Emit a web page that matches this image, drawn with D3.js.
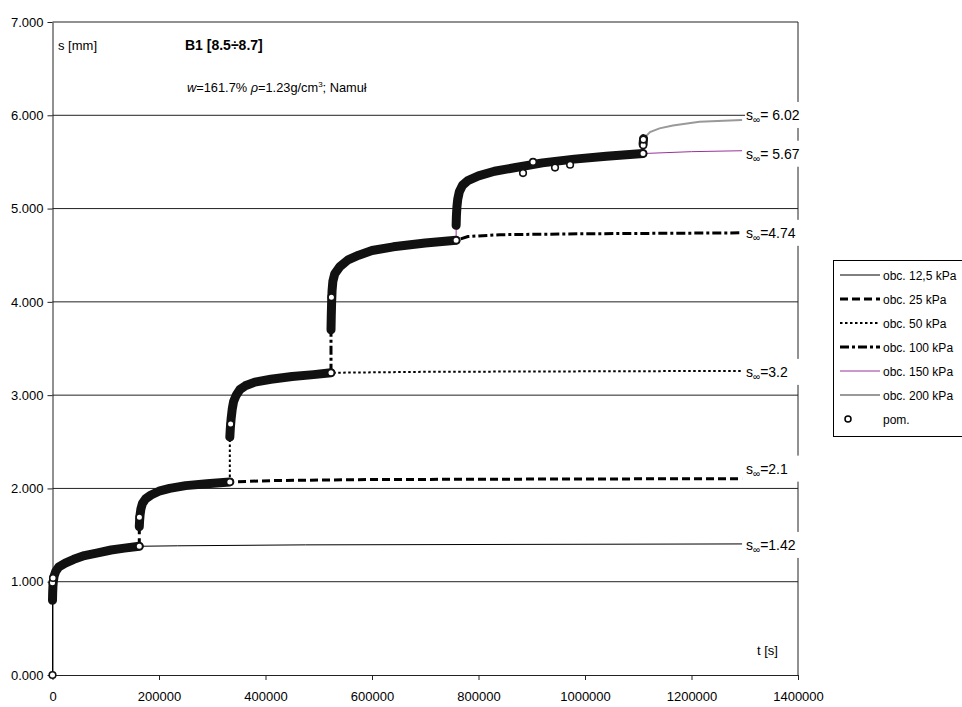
<!DOCTYPE html>
<html>
<head>
<meta charset="utf-8">
<script src="https://cdn.jsdelivr.net/npm/d3@7"></script>
<style>
  body { margin: 0; background: #fff; }
  text { font-family: "Liberation Sans", Arial, sans-serif; fill: #000; }
</style>
</head>
<body>
<svg id="chart" width="962" height="707"></svg>
<script>
// tick values
const yTicks = [0, 1, 2, 3, 4, 5, 6, 7];
const xTicks = [0, 200000, 400000, 600000, 800000, 1000000, 1200000, 1400000];

// measured settlement, one array per load stage: [t (s), s (mm)]
const pom125 = [[0, 0.80], [300, 0.88], [800, 0.95], [1500, 1.00], [3000, 1.06], [6000, 1.11], [12000, 1.16], [24000, 1.20], [40000, 1.24], [60000, 1.28], [85000, 1.31], [110000, 1.34], [135000, 1.36], [163000, 1.38]];
const pom25 = [[163000, 1.59], [163500, 1.65], [164500, 1.72], [166000, 1.78], [169000, 1.84], [175000, 1.89], [185000, 1.93], [200000, 1.97], [220000, 2.00], [250000, 2.03], [290000, 2.05], [333000, 2.07]];
const pom50 = [[333000, 2.55], [334000, 2.65], [335500, 2.75], [337500, 2.85], [340000, 2.93], [345000, 3.00], [352000, 3.06], [362000, 3.10], [380000, 3.14], [410000, 3.17], [450000, 3.20], [490000, 3.22], [523000, 3.24]];
const pom100 = [[523000, 3.70], [523500, 3.85], [524200, 4.00], [525000, 4.12], [526500, 4.22], [530000, 4.30], [540000, 4.38], [555000, 4.45], [575000, 4.50], [600000, 4.55], [640000, 4.59], [700000, 4.63], [758000, 4.66]];
const pom150 = [[758000, 4.82], [758500, 4.92], [759500, 5.02], [761000, 5.10], [764000, 5.18], [770000, 5.25], [780000, 5.30], [800000, 5.35], [830000, 5.40], [870000, 5.44], [920000, 5.49], [980000, 5.53], [1040000, 5.56], [1109000, 5.59]];
const pom200 = [[1109000, 5.69], [1109500, 5.72], [1110000, 5.75]];

// single measured points whose open marker stands out
const pomOpen = [[0, 0.00], [0, 0.99], [1000, 1.04], [163000, 1.38], [163200, 1.69], [333000, 2.07], [334500, 2.69], [523000, 3.24], [523800, 4.05], [758000, 4.66], [883600, 5.38], [902400, 5.50], [943700, 5.44], [972000, 5.47], [1109000, 5.59], [1109300, 5.68], [1109600, 5.74]];

// model curves after the end of each stage
const tail125 = [[235000, 1.385], [475000, 1.395], [1295000, 1.405]];
const tail25 = [[420000, 2.085], [600000, 2.095], [900000, 2.10], [1295000, 2.105]];
const tail50 = [[700000, 3.25], [1295000, 3.26]];
const tail100 = [[780000, 4.70], [840000, 4.72], [1000000, 4.73], [1295000, 4.74]];
const tail150 = [[1200000, 5.61], [1295000, 5.62]];
const model200 = [[1109000, 5.59], [1109300, 5.70], [1112000, 5.76], [1122000, 5.82], [1140000, 5.86], [1165000, 5.89], [1215000, 5.93], [1295000, 5.95]];

const loads = ["obc. 12,5 kPa", "obc. 25 kPa", "obc. 50 kPa", "obc. 100 kPa", "obc. 150 kPa", "obc. 200 kPa"];
const sInf = ["1.42", "2.1", "3.2", "4.74", " 5.67", " 6.02"];

const svg = d3.select("#chart");
const margin = { top: 22, right: 164, bottom: 32, left: 52.5 };
const W = 962, H = 707;

const x = d3.scaleLinear().domain([0, 1400000]).range([margin.left, W - margin.right]);
const y = d3.scaleLinear().domain([0, 7]).range([H - margin.bottom, margin.top]);

// line styles per load
const styles = [
  { color: "#000", width: 1, dash: null },
  { color: "#000", width: 3, dash: "8,4" },
  { color: "#000", width: 2, dash: "2.5,2.5" },
  { color: "#000", width: 3, dash: "9,3,3,3" },
  { color: "#993399", width: 1, dash: null },
  { color: "#999", width: 2, dash: null }
];

// gridlines + frame
svg.append("g").selectAll("line")
  .data(yTicks.slice(1))
  .join("line")
  .attr("x1", x(0)).attr("x2", x(1400000))
  .attr("y1", d => y(d)).attr("y2", d => y(d))
  .attr("stroke", "#222").attr("stroke-width", 1);
svg.append("line")
  .attr("x1", x(1400000)).attr("x2", x(1400000))
  .attr("y1", y(7)).attr("y2", y(0))
  .attr("stroke", "#222");

// axes
const yAxis = svg.append("g")
  .attr("transform", `translate(${x(0)},0)`)
  .call(d3.axisLeft(y).tickValues(yTicks).tickFormat(d3.format(".3f")).tickSize(5).tickSizeOuter(0).tickPadding(4));
const xAxis = svg.append("g")
  .attr("transform", `translate(0,${y(0)})`)
  .call(d3.axisBottom(x).tickValues(xTicks).tickFormat(d3.format("d")).tickSize(5).tickSizeOuter(0).tickPadding(12));
[yAxis, xAxis].forEach(a => {
  a.selectAll("text").attr("font-size", 13).attr("font-family", "Liberation Sans, Arial, sans-serif");
  a.select(".domain").attr("stroke", "#222");
  a.selectAll(".tick line").attr("stroke", "#222");
});

// model lines
const stages = [pom125, pom25, pom50, pom100, pom150];
const tails = [tail125, tail25, tail50, tail100, tail150];
const models = stages.map((p, i) => {
  const start = i === 0 ? [0, 0] : [p[0][0], stages[i - 1][stages[i - 1].length - 1][1]];
  return [start, ...p, ...tails[i]];
});
models.push(model200);

const line = d3.line().x(d => x(d[0])).y(d => y(d[1]));

svg.append("g").selectAll("path")
  .data(models)
  .join("path")
  .attr("d", line)
  .attr("fill", "none")
  .attr("stroke", (d, i) => styles[i].color)
  .attr("stroke-width", (d, i) => styles[i].width)
  .attr("stroke-dasharray", (d, i) => styles[i].dash);

// dense measured points -> dark band
svg.append("g").selectAll("path")
  .data([...stages, pom200])
  .join("path")
  .attr("d", line)
  .attr("fill", "none")
  .attr("stroke", "#111")
  .attr("stroke-width", 9)
  .attr("stroke-linecap", "round")
  .attr("stroke-linejoin", "round");

svg.append("g").selectAll("circle")
  .data(pomOpen)
  .join("circle")
  .attr("cx", d => x(d[0]))
  .attr("cy", d => y(d[1]))
  .attr("r", 3.3)
  .attr("fill", "#fff")
  .attr("stroke", "#111")
  .attr("stroke-width", 1.6);

// s-infinity labels at the end of model lines
const labelDy = [1, -10, 1, 0, 3, -5];
const lab = svg.append("g").selectAll("g")
  .data(models)
  .join("g")
  .attr("transform", (d, i) => `translate(746,${y(d[d.length - 1][1]) + labelDy[i]})`);
lab.append("rect")
  .attr("x", -1).attr("y", -13).attr("width", 56).attr("height", 26)
  .attr("fill", "#fff");
const lt = lab.append("text").attr("y", 5).attr("font-size", 14);
lt.append("tspan").text("s");
lt.append("tspan").attr("font-size", 10).attr("dy", 3).text("∞");
lt.append("tspan").attr("dy", -3).text((d, i) => "=" + sInf[i]);

// texts inside the plot
svg.append("text").attr("x", 58).attr("y", 50).attr("font-size", 13).text("s [mm]");
svg.append("text").attr("x", 185).attr("y", 50).attr("font-size", 14).attr("font-weight", "bold").text("B1 [8.5÷8.7]");
const sub = svg.append("text").attr("x", 187).attr("y", 92).attr("font-size", 12.8);
sub.append("tspan").attr("font-style", "italic").text("w");
sub.append("tspan").text("=161.7%  ");
sub.append("tspan").attr("font-style", "italic").text("ρ");
sub.append("tspan").text("=1.23g/cm");
sub.append("tspan").attr("font-size", 8).attr("dy", -5).text("3");
sub.append("tspan").attr("dy", 5).text("; Namuł");
svg.append("text").attr("x", 757).attr("y", 655).attr("font-size", 13).text("t [s]");

// legend
const legend = svg.append("g").attr("transform", "translate(833,260)");
legend.append("rect")
  .attr("x", 0.5).attr("y", 0.5).attr("width", 140).attr("height", 176)
  .attr("fill", "#fff").attr("stroke", "#000");
const rows = legend.selectAll("g.row")
  .data(loads)
  .join("g")
  .attr("class", "row")
  .attr("transform", (d, i) => `translate(0,${15 + i * 24})`);
rows.append("line")
  .attr("x1", 7).attr("x2", 47)
  .attr("stroke", (d, i) => styles[i].color)
  .attr("stroke-width", (d, i) => styles[i].width)
  .attr("stroke-dasharray", (d, i) => styles[i].dash);
rows.append("text").attr("x", 50).attr("y", 4.5).attr("font-size", 12).text(d => d);
const pomRow = legend.append("g").attr("transform", `translate(0,${15 + 6 * 24})`);
pomRow.append("circle").attr("cx", 15).attr("r", 3).attr("fill", "#fff").attr("stroke", "#000").attr("stroke-width", 1.5);
pomRow.append("text").attr("x", 50).attr("y", 4.5).attr("font-size", 12).text("pom.");
</script>
</body>
</html>
